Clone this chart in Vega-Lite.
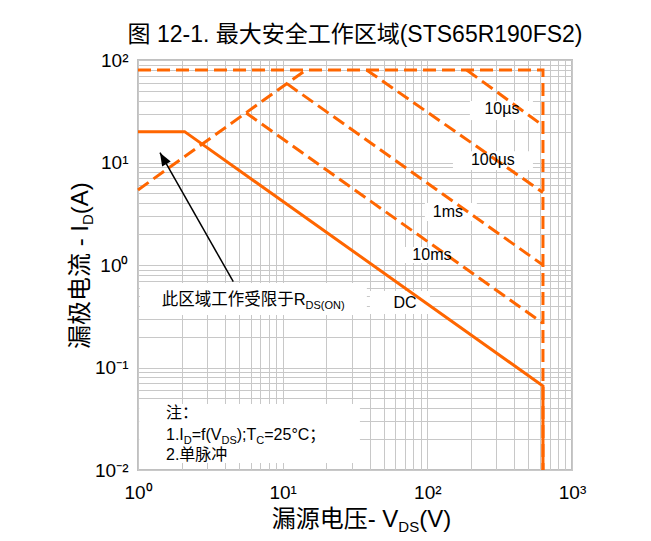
{
  "$schema": "https://vega.github.io/schema/vega-lite/v6.json",
  "width": 434,
  "height": 410,
  "autosize": {"type": "none"},
  "padding": {"left": 138, "top": 60, "right": 79, "bottom": 71},
  "background": "white",
  "title": {
    "text": "图 12-1. 最大安全工作区域(STS65R190FS2)",
    "font": "Liberation Sans, Noto Sans CJK SC",
    "fontSize": 23,
    "fontWeight": "normal",
    "color": "#000000",
    "anchor": "middle",
    "frame": "group",
    "baseline": "alphabetic",
    "offset": -14
  },
  "config": {
    "view": {"stroke": "#c0c0c0", "strokeWidth": 2},
    "axis": {
      "grid": true,
      "gridColor": "#c8c8c8",
      "gridWidth": 1,
      "gridOpacity": 1,
      "domain": false,
      "ticks": false,
      "labelFont": "Liberation Sans",
      "labelFontSize": 19,
      "labelColor": "#000000",
      "labelOverlap": false,
      "labelFlush": false
    }
  },
  "datasets": {
    "lines": [
      {"s": "top", "i": 0, "x": 1, "y": 80},
      {"s": "top", "i": 1, "x": 630, "y": 80},
      {"s": "top", "i": 2, "x": 630, "y": 0.01},
      {"s": "rds", "i": 0, "x": 1, "y": 5.4},
      {"s": "rds", "i": 1, "x": 14.5, "y": 80},
      {"s": "10us", "i": 0, "x": 187, "y": 80},
      {"s": "10us", "i": 1, "x": 630, "y": 22.9},
      {"s": "100us", "i": 0, "x": 38, "y": 80},
      {"s": "100us", "i": 1, "x": 630, "y": 5.1},
      {"s": "1ms", "i": 0, "x": 10.7, "y": 58.8},
      {"s": "1ms", "i": 1, "x": 630, "y": 1.0},
      {"s": "10ms", "i": 0, "x": 5.6, "y": 30.4},
      {"s": "10ms", "i": 1, "x": 630, "y": 0.27}
    ],
    "dc": [
      {"i": 0, "x": 1, "y": 20},
      {"i": 1, "x": 2.1, "y": 20},
      {"i": 2, "x": 630, "y": 0.066},
      {"i": 3, "x": 630, "y": 0.01}
    ],
    "boxes": [
      {"b": "10µs", "x": 196.9, "x2": 537, "y": 39.8, "y2": 26.0},
      {"b": "100µs", "x": 150.3, "x2": 537, "y": 12.9, "y2": 8.45},
      {"b": "1ms", "x": 96.2, "x2": 220, "y": 4.03, "y2": 2.69},
      {"b": "10ms", "x": 70, "x2": 147.9, "y": 1.5, "y2": 1.046},
      {"b": "DC", "x": 40.1, "x2": 104.2, "y": 0.557, "y2": 0.333},
      {"b": "rds", "x": 1.03, "x2": 38.2, "y": 0.667, "y2": 0.325},
      {"b": "note", "x": 1.02, "x2": 34.2, "y": 0.0441, "y2": 0.0117}
    ],
    "texts": [
      {"g": "lbl", "t": "10µs", "x": 327.8, "y": 33.3},
      {"g": "lbl", "t": "100µs", "x": 284, "y": 10.6},
      {"g": "lbl", "t": "1ms", "x": 138.8, "y": 3.29},
      {"g": "lbl", "t": "10ms", "x": 107.6, "y": 1.25},
      {"g": "lbl", "t": "DC", "x": 70, "y": 0.4256},
      {"g": "rdsMain", "t": "此区域工作受限于R", "x": 1.458, "y": 0.4072},
      {"g": "rdsSub", "t": "DS(ON)", "x": 14.4, "y": 0.4072},
      {"g": "note", "t": "注：", "x": 1.561, "y": 0.03217},
      {"g": "note", "t": "1.I", "x": 1.561, "y": 0.01984},
      {"g": "noteSub", "t": "D", "x": 2.073, "y": 0.01984},
      {"g": "note", "t": "=f(V", "x": 2.35, "y": 0.01984},
      {"g": "noteSub", "t": "DS", "x": 3.776, "y": 0.01984},
      {"g": "note", "t": ");T", "x": 4.817, "y": 0.01984},
      {"g": "noteSub", "t": "C", "x": 6.58, "y": 0.01984},
      {"g": "note", "t": "=25°C；", "x": 7.462, "y": 0.01984},
      {"g": "note", "t": "2.单脉冲", "x": 1.561, "y": 0.01253},
      {"g": "xt", "t": "漏源电压- V", "x": 8.394, "y": 0.002797},
      {"g": "xtSub", "t": "DS", "x": 63.05, "y": 0.002797},
      {"g": "xt", "t": "(V)", "x": 87.78, "y": 0.002797},
      {"g": "yt", "t": "漏极电流 - I", "x": 0.4513, "y": 0.1515},
      {"g": "ytSub", "t": "D", "x": 0.4513, "y": 2.456},
      {"g": "yt", "t": "(A)", "x": 0.4513, "y": 3.13}
    ],
    "arrow": [
      {"i": 0, "x": 4.556, "y": 0.6873},
      {"i": 1, "x": 1.419, "y": 12.46}
    ],
    "arrowHead": [
      {"x": 1.419, "y": 12.46}
    ]
  },
  "encoding": {
    "x": {
      "field": "x",
      "type": "quantitative",
      "scale": {"type": "log", "domain": [1, 1000], "nice": false},
      "axis": {
        "title": null,
        "values": [1, 2, 3, 4, 5, 6, 7, 8, 9, 10, 20, 30, 40, 50, 60, 70, 80, 90, 100, 200, 300, 400, 500, 600, 700, 800, 900, 1000],
        "labelExpr": "datum.value==1?'10⁰':datum.value==10?'10¹':datum.value==100?'10²':datum.value==1000?'10³':''",
        "labelPadding": 13
      }
    },
    "y": {
      "field": "y",
      "type": "quantitative",
      "scale": {"type": "log", "domain": [0.01, 100], "nice": false},
      "axis": {
        "title": null,
        "values": [0.01, 0.02, 0.03, 0.04, 0.05, 0.06, 0.07, 0.08, 0.09, 0.1, 0.2, 0.3, 0.4, 0.5, 0.6, 0.7, 0.8, 0.9, 1, 2, 3, 4, 5, 6, 7, 8, 9, 10, 20, 30, 40, 50, 60, 70, 80, 90, 100],
        "labelExpr": "datum.value==100?'10²':datum.value==10?'10¹':datum.value==1?'10⁰':datum.value==0.1?'10⁻¹':datum.value==0.01?'10⁻²':''",
        "labelPadding": 10
      }
    }
  },
  "layer": [
    {
      "data": {"name": "boxes"},
      "mark": {"type": "rect", "color": "#ffffff", "opacity": 1},
      "encoding": {"x2": {"field": "x2"}, "y2": {"field": "y2"}}
    },
    {
      "data": {"name": "lines"},
      "mark": {"type": "line", "color": "#ff6600", "strokeWidth": 3, "strokeDash": [13, 6]},
      "encoding": {"detail": {"field": "s"}, "order": {"field": "i"}}
    },
    {
      "data": {"name": "dc"},
      "mark": {"type": "line", "color": "#ff6600", "strokeWidth": 3},
      "encoding": {"order": {"field": "i"}}
    },
    {
      "data": {"name": "arrow"},
      "mark": {"type": "line", "color": "#000000", "strokeWidth": 1.5},
      "encoding": {"order": {"field": "i"}}
    },
    {
      "data": {"name": "arrowHead"},
      "mark": {"type": "point", "shape": "M0,0L-0.38,1L0.38,1Z", "size": 676, "angle": 330.4, "filled": true, "color": "#000000", "opacity": 1}
    },
    {
      "data": {"name": "texts"},
      "transform": [{"filter": "datum.g=='lbl'"}],
      "mark": {"type": "text", "font": "Liberation Sans", "fontSize": 16, "color": "#000000", "align": "center", "baseline": "middle"},
      "encoding": {"text": {"field": "t"}}
    },
    {
      "data": {"name": "texts"},
      "transform": [{"filter": "datum.g=='rdsMain'"}],
      "mark": {"type": "text", "font": "Liberation Sans, Noto Sans CJK SC", "fontSize": 16.5, "color": "#000000", "align": "left", "baseline": "alphabetic"},
      "encoding": {"text": {"field": "t"}}
    },
    {
      "data": {"name": "texts"},
      "transform": [{"filter": "datum.g=='rdsSub'"}],
      "mark": {"type": "text", "font": "Liberation Sans", "fontSize": 11, "color": "#000000", "align": "left", "baseline": "alphabetic", "dy": 4},
      "encoding": {"text": {"field": "t"}}
    },
    {
      "data": {"name": "texts"},
      "transform": [{"filter": "datum.g=='note'"}],
      "mark": {"type": "text", "font": "Liberation Sans, Noto Sans CJK SC", "fontSize": 16, "color": "#000000", "align": "left", "baseline": "alphabetic"},
      "encoding": {"text": {"field": "t"}}
    },
    {
      "data": {"name": "texts"},
      "transform": [{"filter": "datum.g=='noteSub'"}],
      "mark": {"type": "text", "font": "Liberation Sans", "fontSize": 11, "color": "#000000", "align": "left", "baseline": "alphabetic", "dy": 4},
      "encoding": {"text": {"field": "t"}}
    },
    {
      "data": {"name": "texts"},
      "transform": [{"filter": "datum.g=='xt'"}],
      "mark": {"type": "text", "font": "Liberation Sans, Noto Sans CJK SC", "fontSize": 24, "color": "#000000", "align": "left", "baseline": "alphabetic"},
      "encoding": {"text": {"field": "t"}}
    },
    {
      "data": {"name": "texts"},
      "transform": [{"filter": "datum.g=='xtSub'"}],
      "mark": {"type": "text", "font": "Liberation Sans", "fontSize": 15, "color": "#000000", "align": "left", "baseline": "alphabetic", "dy": 5},
      "encoding": {"text": {"field": "t"}}
    },
    {
      "data": {"name": "texts"},
      "transform": [{"filter": "datum.g=='yt'"}],
      "mark": {"type": "text", "font": "Liberation Sans, Noto Sans CJK SC", "fontSize": 24, "color": "#000000", "align": "left", "baseline": "alphabetic", "angle": 270},
      "encoding": {"text": {"field": "t"}}
    },
    {
      "data": {"name": "texts"},
      "transform": [{"filter": "datum.g=='ytSub'"}],
      "mark": {"type": "text", "font": "Liberation Sans", "fontSize": 15, "color": "#000000", "align": "left", "baseline": "alphabetic", "angle": 270, "dy": 5},
      "encoding": {"text": {"field": "t"}}
    }
  ]
}
